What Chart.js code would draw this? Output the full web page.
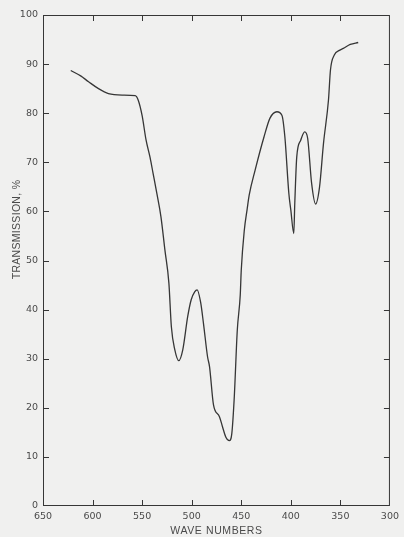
<!DOCTYPE html>
<html lang="en">
<head>
    <meta charset="UTF-8">
    <title>Transmission spectrum</title>
    <script src="https://cdn.jsdelivr.net/npm/chart.js"></script>
    <style>
        html, body { margin: 0; padding: 0; background: #f0f0ef; }
        #wrap { width: 404px; height: 537px; }
    </style>
</head>
<body>
    <div id="wrap"><canvas id="spectrum"></canvas></div>

    <script>
        // wave numbers (cm-1) and transmission (%)
        const waveNumbers = [622, 612, 604, 594, 584, 570, 557, 554, 550, 546, 542, 539, 535, 531, 527, 523,
            520.5, 517, 513, 509, 504, 500.5, 497, 494.5, 491, 488, 484, 482, 478, 472, 469, 465.5, 462,
            459.5, 457, 454, 451, 450, 447, 444, 442, 436, 427, 421, 414, 409, 406, 402, 400, 397, 396,
            394, 390, 386, 383, 379, 375, 371, 367, 362, 360, 356, 351, 347, 340, 332];
        const transmission = [88.7, 87.6, 86.4, 85.0, 84.0, 83.7, 83.6, 82.7, 79.5, 74.5, 71.0, 67.8, 63.5, 58.9, 52.1, 45.4,
            36.5, 31.8, 29.6, 31.8, 38.6, 42.0, 43.6, 44.0, 41.5, 37.0, 30.4, 28.4, 20.6, 18.2, 16.2, 14.0, 13.3,
            14.8, 22.3, 35.8, 43.0, 48.0, 56.0, 60.5, 63.3, 68.4, 75.2, 79.0, 80.3, 79.6, 75.2, 63.7, 60.3, 55.5, 61.6,
            71.1, 74.5, 76.2, 74.9, 65.7, 61.5, 65.0, 73.9, 82.7, 88.8, 91.9, 92.8, 93.2, 94.0, 94.4];

        const xTicks = [650, 600, 550, 500, 450, 400, 350, 300];
        const yTicks = [0, 10, 20, 30, 40, 50, 60, 70, 80, 90, 100];

        const ink = '#363636';
        const labelInk = '#4a4a4a';

        // frame with short tick marks pointing into the plot on all four sides
        const framePlugin = {
            id: 'frame',
            beforeDraw(chart) {
                // axis titles are spread out a little, y title sits above centre
                ['x', 'y'].forEach(id => {
                    const sc = chart.scales[id];
                    if (sc._wrapped) return;
                    const orig = sc.drawTitle;
                    sc.drawTitle = function () {
                        const c = this.ctx;
                        c.save();
                        c.letterSpacing = id === 'y' ? '0.3px' : '0.6px';
                        if (id === 'y') c.translate(0, -31);
                        orig.call(this);
                        c.restore();
                    };
                    sc._wrapped = true;
                });
            },
            afterDraw(chart) {
                const {ctx, chartArea: a, scales: {x, y}} = chart;
                ctx.save();
                ctx.strokeStyle = ink;
                ctx.lineWidth = 1;
                ctx.strokeRect(a.left + 0.5, a.top + 0.5, a.right - a.left - 1, a.bottom - a.top - 1);
                ctx.beginPath();
                xTicks.slice(1, -1).forEach(v => {
                    const px = Math.round(x.getPixelForValue(v)) + 0.5;
                    ctx.moveTo(px, a.bottom);
                    ctx.lineTo(px, a.bottom - 6);
                    ctx.moveTo(px, a.top);
                    ctx.lineTo(px, a.top + 6);
                });
                yTicks.slice(1, -1).forEach(v => {
                    const py = Math.round(y.getPixelForValue(v)) + 0.5;
                    ctx.moveTo(a.left, py);
                    ctx.lineTo(a.left + 6, py);
                    ctx.moveTo(a.right, py);
                    ctx.lineTo(a.right - 6, py);
                });
                ctx.stroke();
                ctx.restore();
            }
        };

        new Chart(document.getElementById('spectrum'), {
            type: 'line',
            data: {
                datasets: [{
                    data: waveNumbers.map((w, i) => ({x: w, y: transmission[i]})),
                    borderColor: ink,
                    borderWidth: 1.3,
                    pointRadius: 0,
                    cubicInterpolationMode: 'monotone',
                    fill: false
                }]
            },
            options: {
                responsive: true,
                maintainAspectRatio: false,
                animation: false,
                events: [],
                layout: { padding: { top: 15, right: 10, left: 0, bottom: 0 } },
                plugins: { legend: { display: false }, tooltip: { enabled: false } },
                scales: {
                    x: {
                        type: 'linear',
                        reverse: true,
                        min: 300,
                        max: 650,
                        afterFit: s => { s.height = 31; },
                        afterBuildTicks: s => { s.ticks = xTicks.map(v => ({value: v})); },
                        grid: { display: false, drawTicks: false },
                        border: { display: false },
                        ticks: {
                            padding: 5,
                            color: labelInk,
                            maxRotation: 0,
                            autoSkip: false,
                            font: { family: 'DejaVu Sans', size: 9.5 }
                        },
                        title: {
                            display: true,
                            text: 'WAVE NUMBERS',
                            color: labelInk,
                            padding: { top: 0, bottom: 0 },
                            font: { family: 'Liberation Sans', size: 10.5 }
                        }
                    },
                    y: {
                        min: 0,
                        max: 100,
                        afterFit: s => { s.width = 43; },
                        afterBuildTicks: s => { s.ticks = yTicks.map(v => ({value: v})); },
                        grid: { display: false, drawTicks: false },
                        border: { display: false },
                        ticks: {
                            padding: 5,
                            color: labelInk,
                            autoSkip: false,
                            font: { family: 'DejaVu Sans', size: 9.5 }
                        },
                        title: {
                            display: true,
                            text: 'TRANSMISSION, %',
                            color: labelInk,
                            padding: { top: 11, bottom: 0 },
                            font: { family: 'Liberation Sans', size: 10.5 }
                        }
                    }
                }
            },
            plugins: [framePlugin]
        });
    </script>
</body>
</html>
